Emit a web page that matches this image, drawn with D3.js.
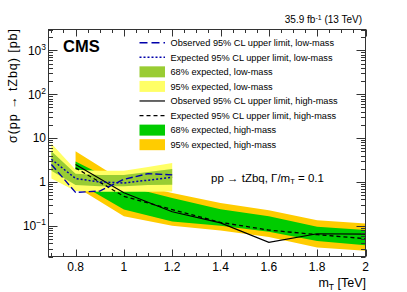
<!DOCTYPE html>
<html><head><meta charset="utf-8">
<script src="https://cdn.jsdelivr.net/npm/d3@7"></script>
<style>body{margin:0;background:#fff}svg{display:block;font-family:"Liberation Sans",Arial,sans-serif}</style>
</head><body><svg id="c" width="407" height="292"></svg>
<script>
// ---- data ----
const lowMass  = [0.7, 0.8, 0.9, 1.0, 1.1, 1.2];
const lowObs   = [2.5, 0.58, 0.62, 1.15, 1.55, 1.45];
const lowExp   = [3.3, 1.2, 1.0, 0.95, 1.1, 1.28];
const low68Lo  = [1.8, 0.85, 0.8, 0.8, 0.85, 0.87];
const low68Hi  = [5.0, 1.55, 1.45, 1.45, 1.7, 1.97];
const low95Lo  = [1.2, 0.62, 0.6, 0.6, 0.6, 0.61];
const low95Hi  = [7.5, 1.9, 1.8, 1.8, 2.2, 2.7];

const highMass = [0.8, 1.0, 1.2, 1.4, 1.6, 1.8, 2.0];
const highObs  = [2.5, 0.57, 0.21, 0.117, 0.042, 0.066, 0.065];
const highExp  = [2.1, 0.47, 0.235, 0.12, 0.08, 0.063, 0.051];
const high68Lo = [1.03, 0.235, 0.125, 0.1, 0.073, 0.045, 0.036];
const high68Hi = [2.94, 0.82, 0.43, 0.24, 0.165, 0.095, 0.08];
const high95Lo = [0.79, 0.165, 0.1, 0.078, 0.056, 0.032, 0.027];
const high95Hi = [5.0, 1.03, 0.56, 0.33, 0.226, 0.134, 0.113];

const xTicks = [0.8, 1, 1.2, 1.4, 1.6, 1.8, 2];
const yTickExp = [-1, 0, 1, 2, 3];
const legendLabels = [
  "Observed 95% CL upper limit, low-mass",
  "Expected 95% CL upper limit, low-mass",
  "68% expected, low-mass",
  "95% expected, low-mass",
  "Observed 95% CL upper limit, high-mass",
  "Expected 95% CL upper limit, high-mass",
  "68% expected, high-mass",
  "95% expected, high-mass"
];

// ---- layout ----
const L = 48.5, R = 365.5, T = 29.5, B = 256.5;
const svg = d3.select("#c");
const x = d3.scaleLinear().domain([0.688, 2.0]).range([L, R]);
const y = d3.scaleLog().domain([0.02, 3000]).range([B, T]);

const colors = {y95:"#ffff66", y68:"#99cc33", o95:"#ffcc00", g68:"#00cc00", blue:"#0000aa"};

svg.append("defs").append("clipPath").attr("id","pc")
  .append("rect").attr("x",L).attr("y",T).attr("width",R-L).attr("height",B-T);
const plot = svg.append("g").attr("clip-path","url(#pc)");

function band(xs, lo, hi, fill){
  const a = d3.area().x((d,i)=>x(xs[i])).y0((d,i)=>y(lo[i])).y1((d,i)=>y(hi[i]));
  plot.append("path").datum(xs).attr("d",a).attr("fill",fill);
}
function line(xs, vs, stroke, dash, w){
  const l = d3.line().x((d,i)=>x(xs[i])).y((d,i)=>y(vs[i]));
  plot.append("path").datum(xs).attr("d",l).attr("fill","none").attr("stroke",stroke)
    .attr("stroke-width",w||1.3).attr("stroke-dasharray",dash||null);
}
band(highMass, high95Lo, high95Hi, colors.o95);
band(highMass, high68Lo, high68Hi, colors.g68);
band(lowMass, low95Lo, low95Hi, colors.y95);
band(lowMass, low68Lo, low68Hi, colors.y68);
line(highMass, highExp, "#000", "4,3", 1.3);
line(highMass, highObs, "#000", null, 1.2);
line(lowMass, lowExp, colors.blue, "2,2", 1.5);
line(lowMass, lowObs, colors.blue, "7,3", 1.4);

// ---- frame & ticks ----
const ax = svg.append("g").attr("stroke","#333").attr("stroke-width",1);
ax.append("rect").attr("x",L).attr("y",T).attr("width",R-L).attr("height",B-T).attr("fill","none");
const minorX = d3.range(0.7, 2.0001, 0.05);
minorX.forEach(v=>{
  const major = xTicks.some(t=>Math.abs(t-v)<1e-6);
  const len = major ? 7 : 3.5;
  const px = Math.round(x(v))+0.5;
  ax.append("line").attr("x1",px).attr("x2",px).attr("y1",B).attr("y2",B-len);
  ax.append("line").attr("x1",px).attr("x2",px).attr("y1",T).attr("y2",T+len);
});
for(let e=-2;e<=3;e++){
  for(let m=1;m<=9;m++){
    const v = m*Math.pow(10,e);
    if(v<0.02||v>3000) continue;
    const len = m===1 ? 9 : 4.5;
    const py = Math.round(y(v))+0.5;
    ax.append("line").attr("x1",L).attr("x2",L+len).attr("y1",py).attr("y2",py);
    ax.append("line").attr("x1",R).attr("x2",R-len).attr("y1",py).attr("y2",py);
  }
}

// ---- tick labels ----
const tl = svg.append("g").attr("font-size",12).attr("fill","#000");
xTicks.forEach(v=>{
  tl.append("text").attr("x",x(v)).attr("y",270.5).attr("text-anchor","middle").text(v===1||v===2?String(v):v.toFixed(1));
});
yTickExp.forEach(e=>{
  const t = tl.append("text").attr("x",46).attr("y",y(Math.pow(10,e))+4.3).attr("text-anchor","end");
  if(e===0) t.text("1");
  else if(e===1) t.text("10");
  else { t.append("tspan").text("10"); t.append("tspan").attr("font-size",8.5).attr("dy",-5).text(e===-1?"−1":String(e)); }
});

// ---- axis titles ----
svg.append("text").attr("transform","translate(16.5,29) rotate(-90)").attr("text-anchor","end")
  .attr("font-size",12.5).attr("textLength",114).attr("lengthAdjust","spacing").text("σ(pp → tZbq) [pb]");
const xt = svg.append("text").attr("x",366).attr("y",286.5).attr("text-anchor","end").attr("font-size",12.5);
xt.append("tspan").text("m");
xt.append("tspan").attr("font-size",8.5).attr("dy",3).text("T");
xt.append("tspan").attr("dy",-3).text(" [TeV]");

// ---- headers ----
svg.append("text").attr("x",63).attr("y",52).attr("font-size",16.5).attr("font-weight","bold").text("CMS");
const lumi = svg.append("text").attr("x",362).attr("y",23).attr("text-anchor","end").attr("font-size",10);
lumi.append("tspan").text("35.9 fb");
lumi.append("tspan").attr("font-size",7).attr("dy",-3.5).text("-1");
lumi.append("tspan").attr("dy",3.5).text(" (13 TeV)");

const ann = svg.append("text").attr("x",211).attr("y",181.5).attr("font-size",11.5);
ann.append("tspan").text("pp → tZbq, Γ/m");
ann.append("tspan").attr("font-size",7.5).attr("dy",2.5).text("T");
ann.append("tspan").attr("dy",-2.5).text(" = 0.1");

// ---- legend ----
const lg = svg.append("g");
const rowY = i => 42.7 + i*14.57;
const sx0 = 139.5, sx1 = 165;
legendLabels.forEach((lab,i)=>{
  const cy = rowY(i);
  if(i===0) lg.append("line").attr("x1",sx0).attr("x2",sx1).attr("y1",cy).attr("y2",cy).attr("stroke",colors.blue).attr("stroke-width",1.4).attr("stroke-dasharray","8,4");
  if(i===1) lg.append("line").attr("x1",sx0).attr("x2",sx1).attr("y1",cy).attr("y2",cy).attr("stroke",colors.blue).attr("stroke-width",1.5).attr("stroke-dasharray","2,2");
  if(i===4) lg.append("line").attr("x1",sx0).attr("x2",sx1).attr("y1",cy).attr("y2",cy).attr("stroke","#000").attr("stroke-width",1.2);
  if(i===5) lg.append("line").attr("x1",sx0).attr("x2",sx1).attr("y1",cy).attr("y2",cy).attr("stroke","#000").attr("stroke-width",1.2).attr("stroke-dasharray","4,3");
  const fills = {2:colors.y68,3:colors.y95,6:colors.g68,7:colors.o95};
  if(fills[i]) lg.append("rect").attr("x",sx0).attr("y",cy-5.5).attr("width",sx1-sx0).attr("height",11).attr("fill",fills[i]);
  lg.append("text").attr("x",170.5).attr("y",cy+3.3).attr("font-size",9.2).text(lab);
});
</script></body></html>
